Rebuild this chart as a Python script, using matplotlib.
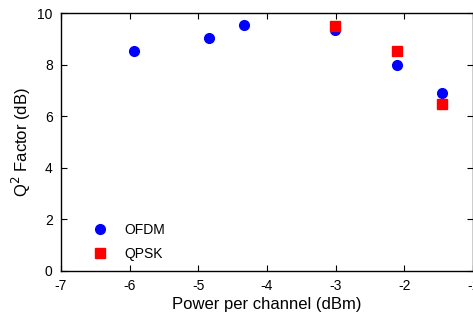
import matplotlib
matplotlib.use("Agg")
import matplotlib.pyplot as plt

plt.rcParams['font.family'] = ['Liberation Sans', 'DejaVu Sans']
plt.rcParams['axes.unicode_minus'] = False

ofdm_x = [-5.94, -4.85, -4.33, -3.01, -2.10, -1.45]
ofdm_y = [8.54, 9.04, 9.55, 9.34, 8.00, 6.91]
qpsk_x = [-3.01, -2.11, -1.45]
qpsk_y = [9.48, 8.53, 6.47]

xticks = [-7, -6, -5, -4, -3, -2, -1]
yticks = [0, 2, 4, 6, 8, 10]

fig = plt.figure(figsize=(4.73, 3.18), dpi=100)
ax = fig.add_axes([0.129, 0.148, 0.871, 0.811])
ax.plot(ofdm_x, ofdm_y, 'o', color='#0000ff', markersize=7, label='OFDM', linestyle='none')
ax.plot(qpsk_x, qpsk_y, 's', color='#ff0000', markersize=7.5, label='QPSK', linestyle='none')
ax.set_xlim(-7, -1)
ax.set_ylim(0, 10)
ax.set_xticks(xticks)
ax.set_yticks(yticks)
ax.tick_params(direction='in', top=True, right=True, labelsize=10, length=4, width=0.8)
ax.tick_params(axis='x', pad=6)
ax.tick_params(axis='y', pad=6)
for s in ax.spines.values():
    s.set_linewidth(1.0)
ax.set_xlabel('Power per channel (dBm)', fontsize=12, labelpad=3)
ax.set_ylabel('Q$^2$ Factor (dB)', fontsize=12, labelpad=3)
ax.legend(loc='lower left', frameon=False, fontsize=10, bbox_to_anchor=(0.03, -0.01),
          handletextpad=0.8, labelspacing=0.75)
fig.savefig('out.png', dpi=100)
